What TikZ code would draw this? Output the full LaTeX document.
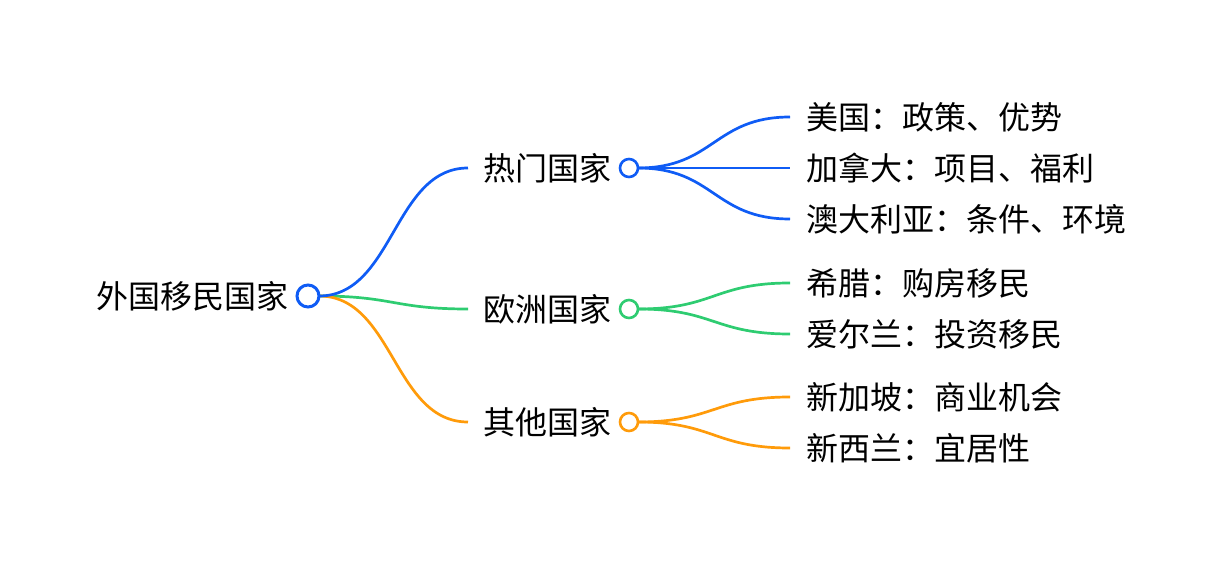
\documentclass[tikz,border=0pt]{standalone}
\usepackage{fontspec}
\newfontfamily\cjk{Noto Sans CJK SC}
\usetikzlibrary{calc}
\definecolor{cblue}{RGB}{15,92,245}
\definecolor{cgreen}{RGB}{46,204,113}
\definecolor{corange}{RGB}{255,155,10}
\tikzset{
  txt/.style={inner sep=0pt, font=\cjk\fontsize{32pt}{38pt}\selectfont, text=black},
  rootdot/.style={circle, draw=#1, line width=3pt, fill=white, minimum size=22pt, inner sep=0pt},
  dot/.style={circle, draw=#1, line width=2.6pt, fill=white, minimum size=18pt, inner sep=0pt},
  lnk/.style={draw=#1, line width=2.7pt},
}
\newcommand{\hlink}[3]{%
  \draw[lnk=#1] let \p1=(#2), \p2=(#3) in
    (\p1) .. controls ({0.5*\x1+0.5*\x2},\y1) and ({0.5*\x1+0.5*\x2},\y2) .. (\p2);}
\begin{document}
\begin{tikzpicture}[x=1pt,y=-1pt]
\useasboundingbox (0,0) rectangle (1224,564);
% root
\node[txt, anchor=east] (root) at (289,296) {外国移民国家};
\coordinate (rootc) at (308,296);
\coordinate (rootr) at (319,296);
% level 1
\node[txt, anchor=east] (hot) at (612,168) {热门国家};
\node[txt, anchor=east] (eu) at (612,309) {欧洲国家};
\node[txt, anchor=east] (oth) at (612,422) {其他国家};
\coordinate (hotin) at (468,168);
\coordinate (euin) at (468,309);
\coordinate (othin) at (468,422);
\coordinate (hotc) at (629,168);
\coordinate (euc) at (629,309);
\coordinate (othc) at (629,422);
\coordinate (hotr) at (638,168);
\coordinate (eur) at (638,309);
\coordinate (othr) at (638,422);
% leaves
\node[txt, anchor=west] (us) at (806,117) {美国：政策、优势};
\node[txt, anchor=west] (ca) at (806,168) {加拿大：项目、福利};
\node[txt, anchor=west] (au) at (806,219) {澳大利亚：条件、环境};
\node[txt, anchor=west] (gr) at (806,283) {希腊：购房移民};
\node[txt, anchor=west] (ie) at (806,334) {爱尔兰：投资移民};
\node[txt, anchor=west] (sg) at (806,397) {新加坡：商业机会};
\node[txt, anchor=west] (nz) at (806,448) {新西兰：宜居性};
\coordinate (usin) at (790,117);
\coordinate (cain) at (790,168);
\coordinate (auin) at (790,219);
\coordinate (grin) at (790,283);
\coordinate (iein) at (790,334);
\coordinate (sgin) at (790,397);
\coordinate (nzin) at (790,448);
% links
\hlink{cgreen}{rootr}{euin}
\hlink{corange}{rootr}{othin}
\hlink{cblue}{rootr}{hotin}
\hlink{cblue}{hotr}{usin}
\hlink{cblue}{hotr}{cain}
\hlink{cblue}{hotr}{auin}
\hlink{cgreen}{eur}{grin}
\hlink{cgreen}{eur}{iein}
\hlink{corange}{othr}{sgin}
\hlink{corange}{othr}{nzin}
% dots
\node[rootdot=cblue] (rootdot) at (rootc) {};
\node[dot=cblue] (hotdot) at (hotc) {};
\node[dot=cgreen] (eudot) at (euc) {};
\node[dot=corange] (othdot) at (othc) {};
\end{tikzpicture}
\end{document}
